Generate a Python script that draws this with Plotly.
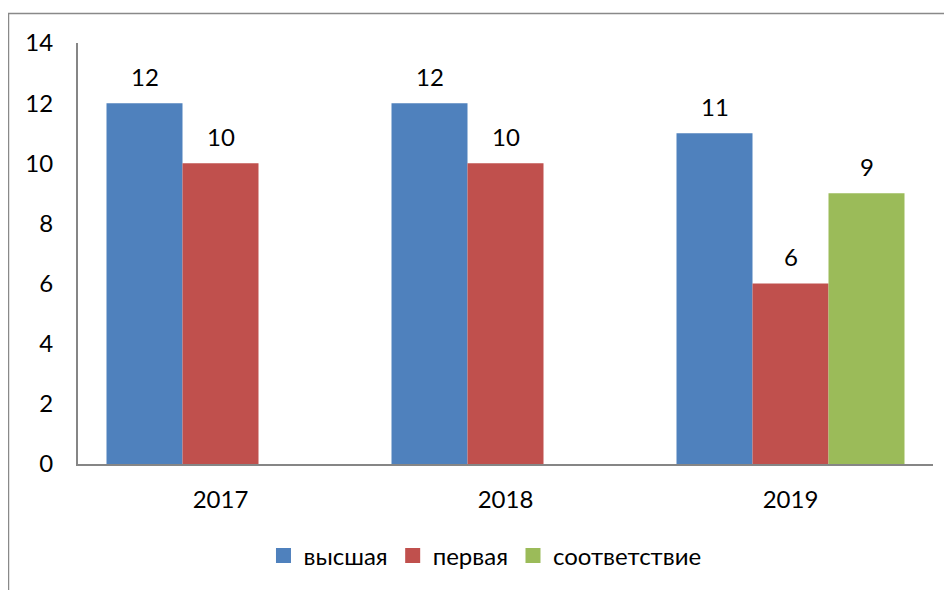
import plotly.graph_objects as go

years = ["2017", "2018", "2019"]
vysshaya = [12, 12, 11]
pervaya = [10, 10, 6]
sootvetstvie = [None, None, 9]

series = [
    ("высшая", vysshaya, "#4F81BD"),
    ("первая", pervaya, "#C0504D"),
    ("соответствие", sootvetstvie, "#9BBB59"),
]

FONT = "Lato, 'Open Sans', sans-serif"
BARGAP = 0.2
bar_w = (1 - BARGAP) / len(series)

fig = go.Figure()
annotations = []
for k, (name, vals, color) in enumerate(series):
    fig.add_trace(go.Bar(
        x=years, y=vals, name=name, legendgroup=name, showlegend=False,
        marker=dict(color=color, line=dict(width=0)),
        hoverinfo="x+y+name",
    ))
    # legend swatch: bigger square than the default bar icon
    fig.add_trace(go.Scatter(
        x=[None], y=[None], name=name, legendgroup=name, mode="markers",
        marker=dict(symbol="square", size=15, color=color),
    ))
    # value labels sit well above the bars, as in the original
    offset = (k - (len(series) - 1) / 2) * bar_w
    for i, v in enumerate(vals):
        if v is None:
            continue
        annotations.append(dict(
            x=i + offset, y=v, xref="x", yref="y", text=str(v),
            showarrow=False, yanchor="middle", yshift=27,
            font=dict(size=24, color="black", family=FONT),
        ))

fig.update_layout(
    width=952, height=590,
    barmode="group", bargap=BARGAP, bargroupgap=0,
    plot_bgcolor="white", paper_bgcolor="white",
    margin=dict(l=70, r=27, t=35, b=134),
    font=dict(family=FONT, size=24, color="black"),
    legend=dict(orientation="h", x=0.476, xanchor="center", y=-0.2185, yanchor="middle",
                font=dict(size=24), itemwidth=30, traceorder="normal"),
    xaxis=dict(showline=True, linecolor="#868686", linewidth=2, ticks="",
               ticklabelstandoff=13, showgrid=False),
    yaxis=dict(range=[0, 14], dtick=2, showline=True, linecolor="#868686", linewidth=2,
               ticks="", showgrid=False, zeroline=False, ticklabelstandoff=18),
    annotations=annotations,
    shapes=[dict(type="rect", xref="paper", yref="paper",
                 x0=-0.0813, x1=1.3, y0=-0.6, y1=1.07,
                 line=dict(color="#898989", width=1.5))],
)

fig.write_html("out.html")
